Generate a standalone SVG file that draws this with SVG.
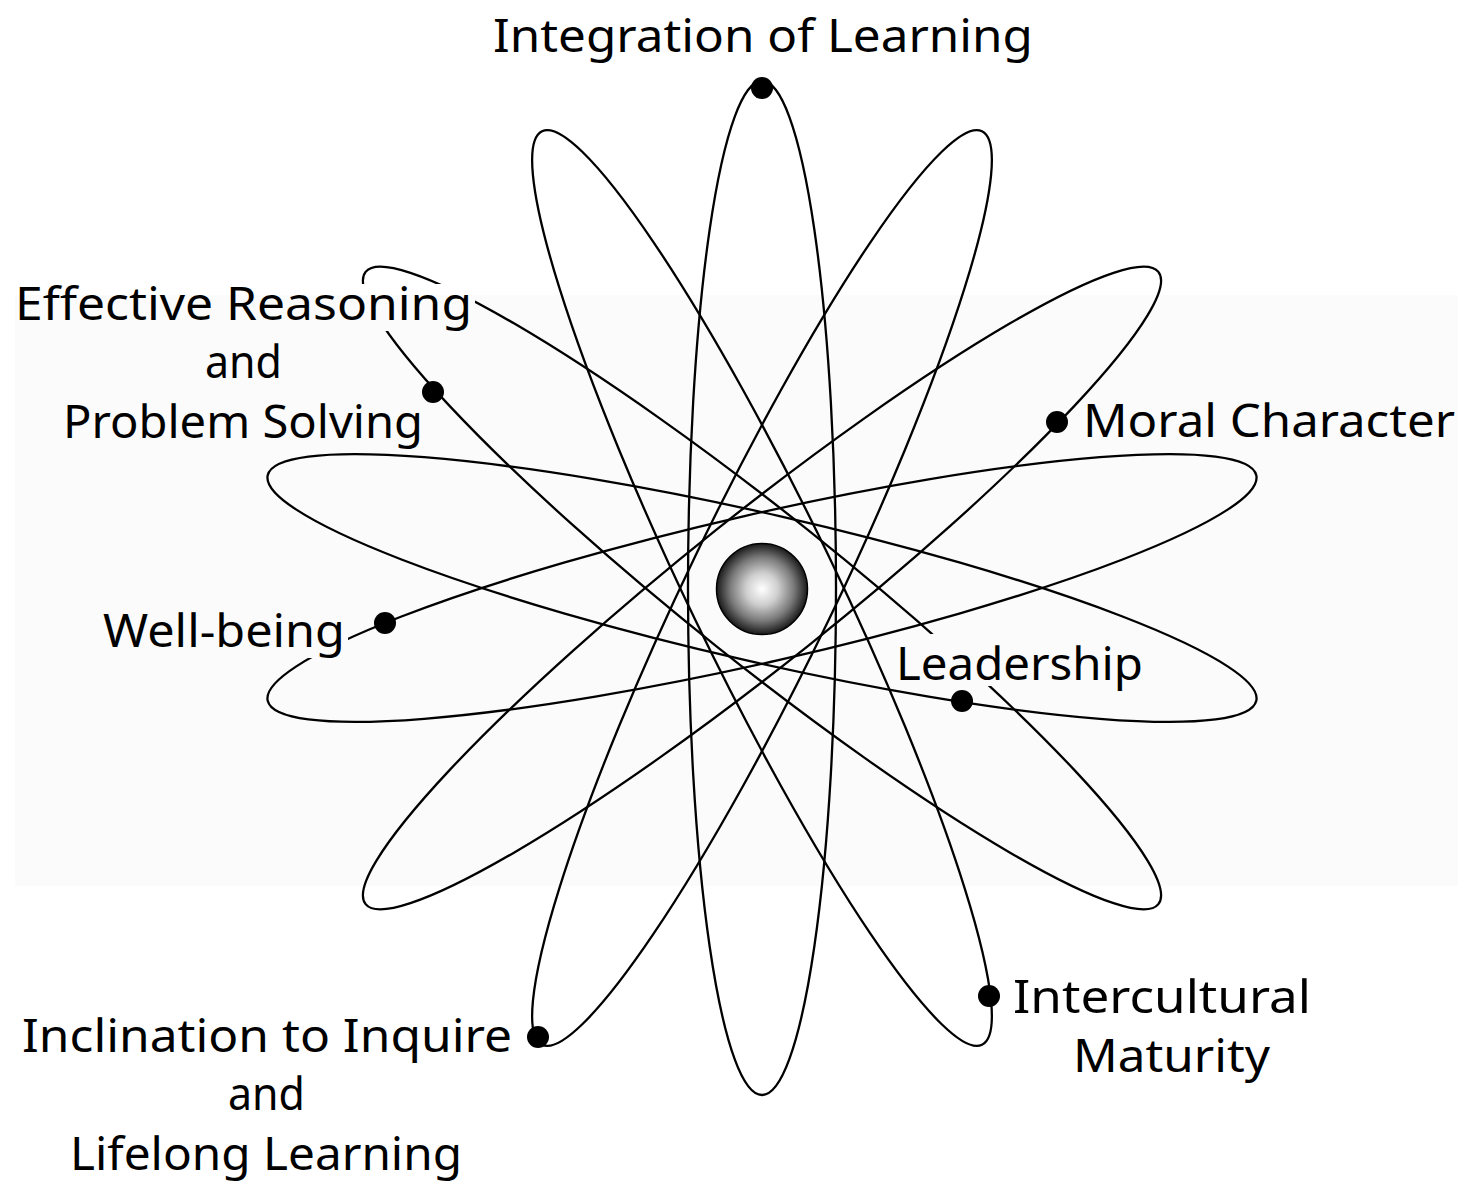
<svg xmlns="http://www.w3.org/2000/svg" width="1467" height="1182" viewBox="0 0 1467 1182">
<defs>
<radialGradient id="nuc" cx="0.5" cy="0.5" r="0.5">
<stop offset="0" stop-color="#ffffff"/>
<stop offset="0.35" stop-color="#cfcfcf"/>
<stop offset="0.7" stop-color="#7a7a7a"/>
<stop offset="1" stop-color="#1a1a1a"/>
</radialGradient>
<style>
.orbit{fill:none;stroke:#000;stroke-width:2.3}
.lbl{font-family:"Noto Sans","DejaVu Sans",sans-serif;font-size:46px;fill:#000;text-anchor:middle}
.ko{fill:#ffffff}
.kog{fill:#fbfbfb}
.dot{fill:#000}
</style>
</defs>
<rect x="0" y="0" width="1467" height="1182" fill="#ffffff"/>
<rect x="15" y="295" width="1443" height="591" fill="#fbfbfb"/>
<g id="orbits">
<ellipse class="orbit" cx="0" cy="0" rx="507" ry="74" transform="translate(762 588) rotate(12.857)"/>
<ellipse class="orbit" cx="0" cy="0" rx="507" ry="74" transform="translate(762 588) rotate(38.571)"/>
<ellipse class="orbit" cx="0" cy="0" rx="507" ry="74" transform="translate(762 588) rotate(64.286)"/>
<ellipse class="orbit" cx="0" cy="0" rx="507" ry="74" transform="translate(762 588) rotate(90)"/>
<ellipse class="orbit" cx="0" cy="0" rx="507" ry="74" transform="translate(762 588) rotate(115.714)"/>
<ellipse class="orbit" cx="0" cy="0" rx="507" ry="74" transform="translate(762 588) rotate(141.429)"/>
<ellipse class="orbit" cx="0" cy="0" rx="507" ry="74" transform="translate(762 588) rotate(167.143)"/>
</g>
<g id="nucleus">
<circle cx="762" cy="589" r="45.5" fill="url(#nuc)" stroke="#000" stroke-width="1.5"/>
</g>
<g id="integration">
<circle class="dot" cx="762" cy="88" r="11"/>
<text class="lbl" x="763" y="52" textLength="540" lengthAdjust="spacingAndGlyphs">Integration of Learning</text>
</g>
<g id="reasoning">
<rect class="ko" x="13" y="284" width="462" height="11"/>
<rect class="kog" x="15" y="295" width="460" height="36"/>
<circle class="dot" cx="433" cy="392" r="11"/>
<text class="lbl" x="243.5" y="320" textLength="457" lengthAdjust="spacingAndGlyphs">Effective Reasoning</text>
<text class="lbl" x="243.5" y="378" textLength="77" lengthAdjust="spacingAndGlyphs">and</text>
<text class="lbl" x="243" y="438" textLength="360" lengthAdjust="spacingAndGlyphs">Problem Solving</text>
</g>
<g id="moral">
<circle class="dot" cx="1057" cy="422" r="11"/>
<text class="lbl" x="1269" y="437" textLength="372" lengthAdjust="spacingAndGlyphs">Moral Character</text>
</g>
<g id="wellbeing">
<rect class="kog" x="100" y="608" width="248" height="50"/>
<circle class="dot" cx="385" cy="623" r="11"/>
<text class="lbl" x="224" y="647" textLength="242" lengthAdjust="spacingAndGlyphs">Well-being</text>
</g>
<g id="leadership">
<rect class="kog" x="893" y="634" width="254" height="52"/>
<circle class="dot" cx="962" cy="701" r="11"/>
<text class="lbl" x="1019.5" y="680" textLength="247" lengthAdjust="spacingAndGlyphs">Leadership</text>
</g>
<g id="intercultural">
<circle class="dot" cx="989" cy="996" r="11"/>
<text class="lbl" x="1162" y="1013" textLength="298" lengthAdjust="spacingAndGlyphs">Intercultural</text>
<text class="lbl" x="1171.5" y="1072" textLength="197" lengthAdjust="spacingAndGlyphs">Maturity</text>
</g>
<g id="inclination">
<circle class="dot" cx="538" cy="1037" r="11"/>
<text class="lbl" x="267" y="1052" textLength="490" lengthAdjust="spacingAndGlyphs">Inclination to Inquire</text>
<text class="lbl" x="266.5" y="1110" textLength="77" lengthAdjust="spacingAndGlyphs">and</text>
<text class="lbl" x="266" y="1170" textLength="392" lengthAdjust="spacingAndGlyphs">Lifelong Learning</text>
</g>
</svg>
